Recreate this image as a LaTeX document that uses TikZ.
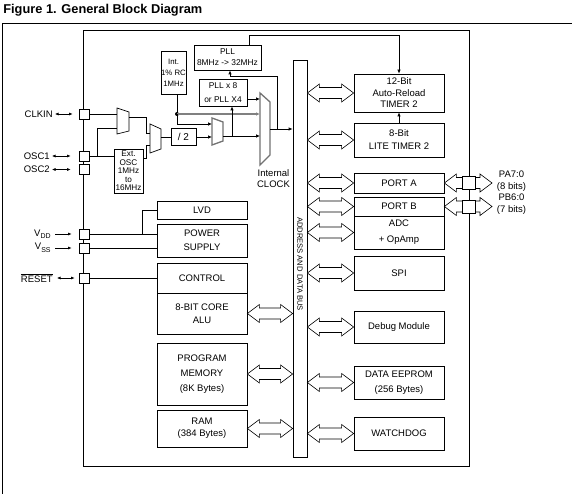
\documentclass[tikz,border=0pt]{standalone}
\usepackage{fontspec}
\setmainfont{Liberation Sans}
\usetikzlibrary{arrows.meta,calc}
\newcommand\dbar[2]{\draw[blkarr] let \p1=#1, \p2=#2 in
  (\x1,\y1) -- (\x1+12pt,\y1+9pt) -- (\x1+12pt,\y1+5.5pt) -- (\x2-12pt,\y1+5.5pt) -- (\x2-12pt,\y1+9pt)
  -- (\x2,\y1) -- (\x2-12pt,\y1-9pt) -- (\x2-12pt,\y1-5.5pt) -- (\x1+12pt,\y1-5.5pt) -- (\x1+12pt,\y1-9pt) -- cycle;}
\begin{document}
\begin{tikzpicture}[x=1pt,y=-1pt,line width=0.7pt,
 >={Latex[length=4pt,width=3.5pt]},
 box/.style={draw, fill=white, inner sep=0pt, align=center, font=\fontsize{9.5}{13}\selectfont, minimum width=90pt},
 cbox/.style={draw, fill=white, inner sep=0pt, align=center, font=\fontsize{8.4}{11}\selectfont},
 pin/.style={draw, fill=white, inner sep=0pt, minimum size=10pt},
 rpin/.style={draw, fill=white, inner sep=0pt, minimum size=13pt},
 lbl/.style={inner sep=0pt, font=\fontsize{9.5}{12}\selectfont},
 pinarr/.style={{Latex[length=3.5pt,width=3pt]}-{Latex[length=3.5pt,width=3pt]}, line width=0.6pt},
 inarr/.style={-{Latex[length=3.5pt,width=3pt]}, line width=0.6pt},
 blkarr/.style={draw, fill=white, line width=0.6pt, line join=miter},
 mux/.style={draw, fill=white, line width=0.7pt},
 gmux/.style={draw=black!55, fill=white, line width=1.3pt},
]
\useasboundingbox (0,0) rectangle (572,494);
\fill[white] (0,0) rectangle (572,494);
% title and frames
\node[anchor=base west, inner sep=0pt, font=\fontsize{12.8}{15}\selectfont\bfseries] (title) at (3,14) {Figure 1. General Block Diagram};
\draw[line width=0.8pt] (2,494) -- (2,23) -- (572,23);
\node[draw, line width=0.8pt, minimum width=386pt, minimum height=436pt, inner sep=0pt] (chip) at (276,248) {};
% bus
\node[draw, fill=white, minimum width=14pt, minimum height=397pt, inner sep=0pt] (bus) at (300,258.5) {};
\node[rotate=-90, inner sep=0pt, font=\fontsize{7.6}{9}\selectfont] (busl) at (300,264) {ADDRESS AND DATA BUS};
% right boxes
\node[box, minimum height=38pt, font=\fontsize{9.5}{11.5}\selectfont] (tmr12) at (399,93) {12-Bit\\Auto-Reload\\TIMER 2};
\node[box, minimum height=34pt] (tmr8) at (399,140) {8-Bit\\LITE TIMER 2};
\node[box, minimum height=20pt] (porta) at (399,183) {PORT A};
\node[box, minimum height=19pt] (portb) at (399,206.5) {PORT B};
\node[box, minimum height=33pt, font=\fontsize{9.5}{16}\selectfont] (adc) at (399,232.5) {ADC\\+ OpAmp};
\node[box, minimum height=34pt] (spi) at (399,273) {SPI};
\node[box, minimum height=32pt] (debug) at (399,327) {Debug Module};
\node[box, minimum height=33pt, font=\fontsize{9.5}{15}\selectfont] (eeprom) at (399,382.5) {DATA EEPROM\\(256 Bytes)};
\node[box, minimum height=33pt] (wdog) at (399,433.5) {WATCHDOG};
% left boxes
\node[box, minimum height=18pt] (lvd) at (202,210) {LVD};
\node[box, minimum height=33pt, font=\fontsize{9.5}{14}\selectfont] (pwr) at (202,240.5) {POWER\\SUPPLY};
\node[box, minimum height=30pt] (ctrl) at (202,278) {CONTROL};
\node[box, minimum height=41pt] (alu) at (202,313.5) {8-BIT CORE\\ALU};
\node[box, minimum height=62pt, font=\fontsize{9.5}{15}\selectfont] (pmem) at (202,374) {PROGRAM\\MEMORY\\(8K Bytes)};
\node[box, minimum height=37pt, font=\fontsize{9.5}{12}\selectfont] (ram) at (202,428.5) {RAM\\(384 Bytes)};
% clock boxes
\node[cbox, minimum width=67pt, minimum height=25pt] (pll) at (227.5,57.5) {PLL\\8MHz -> 32MHz};
\node[cbox, minimum width=25pt, minimum height=43pt, font=\fontsize{7.8}{11}\selectfont] (rc) at (173.5,72.5) {Int.\\1\% RC\\1MHz};
\node[cbox, minimum width=48pt, minimum height=27pt, font=\fontsize{8.4}{14}\selectfont] (pllx) at (223,92.5) {PLL x 8\\or PLL X4};
\node[cbox, minimum width=25pt, minimum height=17pt, font=\fontsize{10}{12}\selectfont] (div) at (183.5,136.5) {/ 2};
\node[cbox, minimum width=29pt, minimum height=44pt, font=\fontsize{8.2}{8.6}\selectfont] (ext) at (128.5,171) {Ext.\\OSC\\1MHz\\to\\16MHz};
% muxes
\draw[mux] (117,108) -- (129,112) -- (129,131) -- (117,134) -- cycle;
\draw[mux] (150,124) -- (161,129) -- (161,149) -- (150,153) -- cycle;
\draw[gmux] (212,118) -- (223,122) -- (223,141) -- (212,145) -- cycle;
\draw[gmux] (260,93) -- (270,102) -- (270,155) -- (260,165) -- cycle;
\node[inner sep=0pt, align=center, font=\fontsize{9.5}{11}\selectfont] (iclk) at (273.5,178.5) {Internal\\CLOCK};
\coordinate (m1a) at (117,114); \coordinate (m1b) at (117,128); \coordinate (m1o) at (129,117);
\coordinate (m2a) at (150,133); \coordinate (m2b) at (150,145); \coordinate (m2o) at (161,137);
\coordinate (m3a) at (212,124); \coordinate (m3b) at (212,137); \coordinate (m3o) at (223,136);
\coordinate (m4a) at (260,99); \coordinate (m4b) at (260,114); \coordinate (m4c) at (260,136); \coordinate (m4o) at (270,129);
\coordinate (j1) at (97,156); \coordinate (dot) at (177,114); \coordinate (j2) at (232,136);
\coordinate (j3) at (277,129); \coordinate (j4) at (230,76); \coordinate (j5) at (249,35);
\coordinate (j6) at (142,234);
% pins left
\node[lbl, anchor=east] (clkl) at (53,114) {CLKIN};
\node[lbl, anchor=east] (osc1l) at (50,156) {OSC1};
\node[lbl, anchor=east] (osc2l) at (50,169.5) {OSC2};
\node[lbl, anchor=east] (vddl) at (51,234) {V\raisebox{-2.5pt}{\fontsize{7}{7}\selectfont DD}};
\node[lbl, anchor=east] (vssl) at (51,248) {V\raisebox{-2.5pt}{\fontsize{7}{7}\selectfont SS}};
\node[lbl, anchor=east] (rstl) at (53,278) {$\overline{\mbox{RESET}}$};
% clock wiring
\draw (84,114) -- (m1a);
\draw (84,156) -- (ext.west |- j1);
\draw (j1) |- (m1b);
\draw (m1o) -- ++(17,0) |- (m2a);
\draw ([yshift=13pt]ext.east) -- ++(3,0) |- (m2b);
\draw (m2o) -- (m2o -| div.west);
\draw[->] (div.east |- m3b) -- (m3b);
\draw (rc.south -| dot) -- (dot);
\fill (dot) circle (2);
\draw[->, draw=black!50, line width=1.8pt] (dot) -- (m4b);
\draw[->] (dot) |- (m3a);
\draw[->] (m3o) -- (m4c);
\draw[->] (j2) -- (j2 |- pllx.south);
\draw[->] (pllx.east |- m4a) -- (m4a);
\draw[->] (m4o) -- (m4o -| bus.west);
\draw[->] (j3) |- (j4) -- (j4 |- pll.south);
\draw[->] (pll.north -| j5) -- (j5) -| (tmr12.north);
\draw[->] (tmr8.north) -- (tmr12.south);
% power / control wiring
\draw (84,234) -- (pwr.west |- j6);
\draw (j6) |- (lvd.west);
\draw (84,248) -- (84,248 -| pwr.west);
\draw (84,278) -- (84,278 -| ctrl.west);
% pin squares
\node[pin] (clk) at (84,114) {};
\node[pin] (osc1) at (84,156) {};
\node[pin] (osc2) at (84,169.5) {};
\node[pin] (vdd) at (84,234) {};
\node[pin] (vss) at (84,248) {};
\node[pin] (rst) at (84,278) {};
\draw[pinarr] ([xshift=2pt]clkl.east) -- ([xshift=-6pt]clk.west);
\draw[pinarr] ([xshift=2pt]osc1l.east) -- ([xshift=-8pt]osc1.west);
\draw[pinarr] ([xshift=2pt]osc2l.east) -- ([xshift=-8pt]osc2.west);
\draw[inarr] ([xshift=4pt]vddl.east) -- ([xshift=-7pt]vdd.west);
\draw[inarr] ([xshift=4pt]vssl.east) -- ([xshift=-7pt]vss.west);
\draw[pinarr] ([xshift=4pt]rstl.east) -- ([xshift=-4pt]rst.west);
% block arrows
\dbar{(alu.east)}{(bus.west |- alu.east)}
\dbar{(pmem.east)}{(bus.west |- pmem.east)}
\dbar{(ram.east)}{(bus.west |- ram.east)}
\dbar{(bus.east |- tmr12.west)}{(tmr12.west)}
\dbar{(bus.east |- tmr8.west)}{(tmr8.west)}
\dbar{(bus.east |- porta.west)}{(porta.west)}
\dbar{(bus.east |- portb.west)}{(portb.west)}
\dbar{(bus.east |- adc.west)}{(adc.west)}
\dbar{(bus.east |- spi.west)}{(spi.west)}
\dbar{(bus.east |- debug.west)}{(debug.west)}
\dbar{(bus.east |- eeprom.west)}{(eeprom.west)}
\dbar{(bus.east |- wdog.west)}{(wdog.west)}
% port pins
\coordinate (paend) at (492,183);
\coordinate (pbend) at (492,206.5);
\dbar{(porta.east)}{(paend)}
\dbar{(portb.east)}{(pbend)}
\node[rpin] (pa) at (468.5,183) {};
\node[rpin] (pb) at (468.5,206.5) {};
\node[lbl, align=center] (pal) at (511.5,181) {PA7:0\\(8 bits)};
\node[lbl, align=center] (pbl) at (511.5,204) {PB6:0\\(7 bits)};
\end{tikzpicture}
\end{document}
